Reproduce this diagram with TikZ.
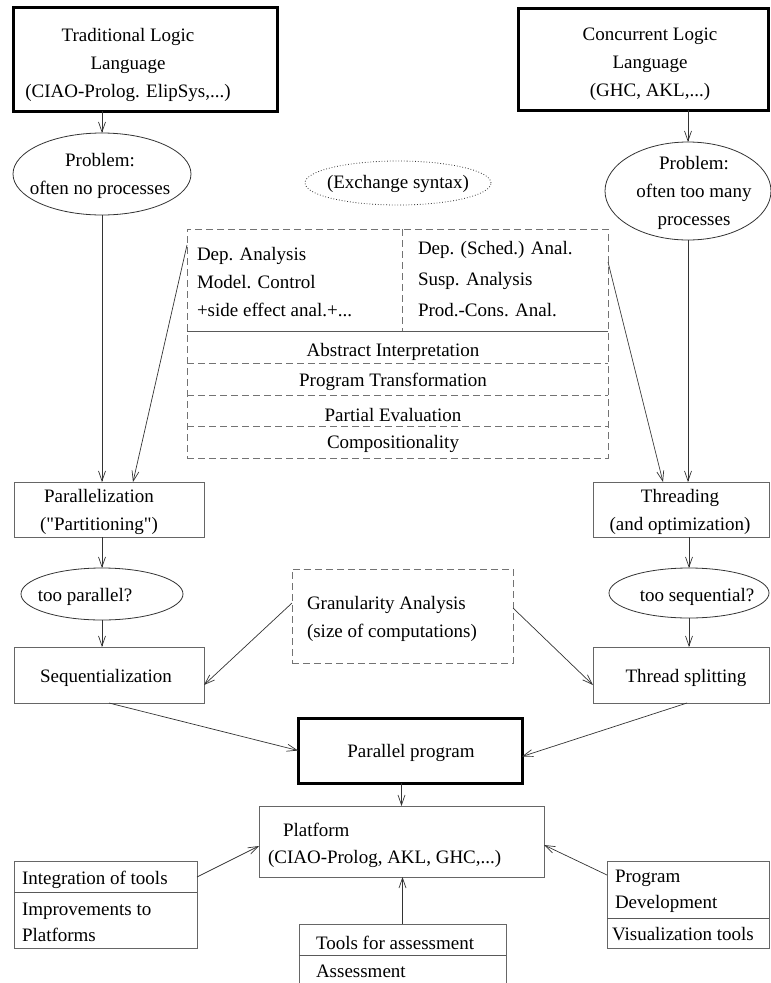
\documentclass[tikz,border=0pt]{standalone}
\usepackage{fontspec}
\setmainfont{Liberation Serif}
\usetikzlibrary{arrows.meta,shapes.geometric}
\begin{document}
\begin{tikzpicture}[x=1pt,y=-1pt,
  every node/.style={font=\fontsize{19}{28}\selectfont, inner sep=0pt, outer sep=0pt},
  box/.style={draw=black!60, line width=0.8pt, rectangle, inner sep=0pt},
  thickbox/.style={draw=black, line width=3pt, rectangle, inner sep=0pt},
  oval/.style={draw=black!80, line width=0.8pt, ellipse, inner sep=0pt},
  dotoval/.style={draw=black!80, line width=0.8pt, ellipse, inner sep=0pt, dotted},
  dbox/.style={draw=black!55, line width=0.8pt, dash pattern=on 7pt off 4pt},
  arr/.style={draw=black!80, line width=0.7pt, -{Straight Barb[length=10pt,width=7pt]}},
  sline/.style={draw=black!65, line width=0.8pt},
  txt/.style={align=center},
  ltxt/.style={anchor=west, align=left},
]
\useasboundingbox (0,0) rectangle (771,983);
\clip (0,0) rectangle (771,983);

% ---------- top boxes ----------
\node[thickbox, minimum width=264, minimum height=104] (tl) at (145,59) {};
\node[txt] (tlt) at (128,65) {Traditional Logic\\Language\\(CIAO-Prolog. ElipSys,...)};
\node[thickbox, minimum width=250, minimum height=102] (tr) at (643,59) {};
\node[txt] (trt) at (650,64) {Concurrent Logic\\Language\\(GHC, AKL,...)};

% ---------- ellipses ----------
\node[oval, minimum width=178, minimum height=82] (e1) at (102,174) {};
\node[txt] (e1t) at (100,176) {Problem:\\often no processes};
\node[dotoval, minimum width=186, minimum height=44] (ex) at (398,183) {};
\node[txt] (ext) at (398,184) {(Exchange syntax)};
\node[oval, minimum width=166, minimum height=98] (e2) at (688,191) {};
\node[txt] (e2t) at (694,193) {Problem:\\often too many\\processes};

% ---------- dashed analysis box ----------
\node[dbox, rectangle, minimum width=421, minimum height=229] (da) at (397.5,343.5) {};
\draw[dbox] (402,229) -- (402,331);
\draw[sline] (187,331) -- (608,331);
\draw[dbox] (187,363) -- (608,363);
\draw[dbox] (187,395) -- (608,395);
\draw[dbox] (187,426) -- (608,426);
\node[ltxt] (dal) at (197,282) {Dep. Analysis\\Model. Control\\+side effect anal.+...};
\node[ltxt, font=\fontsize{19}{31}\selectfont] (dar) at (418,279) {Dep. (Sched.) Anal.\\Susp. Analysis\\Prod.-Cons. Anal.};
\node (ai) at (393,352) {Abstract Interpretation};
\node (pt) at (393,382) {Program Transformation};
\node (pe) at (393,415) {Partial Evaluation};
\node (cp) at (393,444) {Compositionality};
\coordinate (dl) at (187,245);
\coordinate (dr) at (608,262);

% ---------- left column ----------
\node[box, minimum width=190, minimum height=55] (par) at (109,509.5) {};
\node[txt] (part) at (99,512) {Parallelization\\(\textquotedbl Partitioning\textquotedbl)};
\node[oval, minimum width=162, minimum height=52] (tp) at (102,594) {};
\node (tpt) at (85,597) {too parallel?};
\node[box, minimum width=190, minimum height=56] (seq) at (109,675) {};
\node (seqt) at (106,678) {Sequentialization};

% ---------- right column ----------
\node[box, minimum width=176, minimum height=55] (thr) at (681,509.5) {};
\node[txt] (thrt) at (680,512) {Threading\\(and optimization)};
\node[oval, minimum width=160, minimum height=50] (tsq) at (689,593) {};
\node (tsqt) at (697,597) {too sequential?};
\node[box, minimum width=176, minimum height=56] (ts) at (681,675) {};
\node (tst) at (686,678) {Thread splitting};

% ---------- granularity ----------
\node[dbox, rectangle, minimum width=221, minimum height=94] (gr) at (402.5,616) {};
\node[ltxt] (grt) at (307,619) {Granularity Analysis\\(size of computations)};

% ---------- parallel program / platform ----------
\node[thickbox, minimum width=224, minimum height=65] (pp) at (410,750.5) {};
\node (ppt) at (411,753) {Parallel program};
\node[box, minimum width=285, minimum height=71] (plat) at (401.5,841.5) {};
\node[anchor=west] (platt1) at (283,830) {Platform};
\node[anchor=west] (platt2) at (268,859) {(CIAO-Prolog, AKL, GHC,...)};

% ---------- bottom boxes ----------
\node[box, minimum width=183, minimum height=87] (ig) at (105.5,904.5) {};
\draw[sline] (ig.west |- 0,892) -- (ig.east |- 0,892);
\node[anchor=west] (igt1) at (22,880) {Integration of tools};
\node[anchor=west] (igt2) at (22,911) {Improvements to};
\node[anchor=west] (igt3) at (22,935) {Platforms};

\node[box, minimum width=207, minimum height=80] (tb) at (402.5,964) {};
\draw[sline] (tb.west |- 0,955) -- (tb.east |- 0,955);
\node[anchor=west] (tbt1) at (316,943) {Tools for assessment};
\node[anchor=west] (tbt2) at (316,971) {Assessment};

\node[box, minimum width=162, minimum height=87] (pd) at (688,904.5) {};
\draw[sline] (pd.west |- 0,918) -- (pd.east |- 0,918);
\node[anchor=west] (pdt1) at (615,878) {Program};
\node[anchor=west] (pdt2) at (615,904) {Development};
\node[anchor=west] (pdt3) at (612,934) {Visualization tools};

% ---------- connectors ----------
\draw[arr] (tl.south -| e1.north) -- (e1.north);
\draw[arr] (tr.south -| e2.north) -- (e2.north);
\draw[arr] (e1.south) -- (e1.south |- par.north);
\draw[arr] (dl) -- ([xshift=24pt]par.north);
\draw[arr] (e2.south) -- (e2.south |- thr.north);
\draw[arr] (dr) -- ([xshift=-18pt]thr.north);
\draw[arr] (par.south -| tp.north) -- (tp.north);
\draw[arr] (tp.south) -- (tp.south |- seq.north);
\draw[arr] (thr.south -| tsq.north) -- (tsq.north);
\draw[arr] (tsq.south) -- (tsq.south |- ts.north);
\draw[arr] ([yshift=13pt]gr.west) -- ([yshift=-10pt]seq.east);
\draw[arr] ([yshift=8pt]gr.east) -- ([yshift=-10pt]ts.west);
\draw[arr] (seq.south) -- (pp.west);
\draw[arr] ([xshift=6pt]ts.south) -- ([yshift=-6pt]pp.east);
\draw[arr] (pp.south -| plat.north) -- (plat.north);
\draw[arr] (tb.north) -- (tb.north |- plat.south);
\draw[arr] ([yshift=27.5pt]ig.east) -- ([yshift=-4.5pt]plat.west);
\draw[arr] ([yshift=29.5pt]pd.west) -- ([yshift=-3.5pt]plat.east);
\end{tikzpicture}
\end{document}
